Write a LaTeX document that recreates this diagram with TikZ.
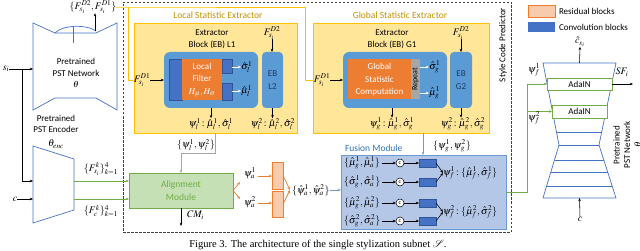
\documentclass[tikz,border=0pt]{standalone}
\usepackage{mathptmx}
\usepackage[no-math]{fontspec}
\setmainfont{Carlito}
\newfontfamily\capfont{Liberation Serif}
\usetikzlibrary{arrows.meta,fit,calc}
\definecolor{goldl}{HTML}{FFC000}
\definecolor{goldt}{HTML}{BF9000}
\definecolor{yfill}{HTML}{FFE699}
\definecolor{ebblue}{HTML}{5B9BD5}
\definecolor{dblue}{HTML}{4472C4}
\definecolor{dblueb}{HTML}{2F5597}
\definecolor{navy}{HTML}{1F3864}
\definecolor{orng}{HTML}{ED7D31}
\definecolor{rgray}{HTML}{A6A6A6}
\definecolor{grn}{HTML}{70AD47}
\definecolor{grnfill}{HTML}{C5E0B4}
\definecolor{fusfill}{HTML}{B4C7E7}
\definecolor{fusb}{HTML}{6C9BD2}
\definecolor{fust}{HTML}{2E75B6}
\definecolor{resfill}{HTML}{F8CBAD}
\definecolor{netb}{HTML}{4472C4}
\definecolor{dashc}{HTML}{404040}
\begin{document}
\begin{tikzpicture}[x=1pt,y=-1pt,
  font=\fontsize{9}{10.5}\selectfont,
  every node/.style={inner sep=0pt, outer sep=0pt},
  tip/.style={-{Stealth[length=3.2pt,width=2.6pt]}},
  arr/.style={tip, line width=0.55pt},
  warr/.style={tip, line width=0.6pt, white},
  oarr/.style={tip, line width=0.7pt, orng},
  garr/.style={tip, line width=0.9pt, grn},
  barr/.style={tip, line width=0.7pt, fusb},
  gline/.style={draw=goldl, line width=0.9pt},
  netl/.style={draw=netb, line width=0.7pt},
  m/.style={font=\fontsize{10}{12}\selectfont},
  ybox/.style={draw=goldl, fill=yfill, line width=0.8pt},
  ebbox/.style={fill=ebblue, rounded corners=6pt},
  dbox/.style={fill=dblue, draw=dblueb, line width=0.4pt},
  obox/.style={fill=orng, text=white, align=center, font=\fontsize{9}{12.5}\selectfont},
  rbox/.style={fill=resfill, draw=orng, line width=0.7pt},
  cnode/.style={circle, draw=black, fill=white, line width=0.5pt, minimum size=8pt, font=\fontsize{6}{6}\selectfont},
  adabox/.style={draw=grn, fill=white, line width=0.8pt},
]
\useasboundingbox (0,0) rectangle (640,251);

% ---------------- top-left pretrained PST network
\draw[netl] (33,23) -- (55,33) -- (96,33) -- (117,23) -- (117,110) -- (96,98) -- (55,98) -- (33,110) -- cycle;
\draw[netl] (55,33) .. controls (62,25) and (86,24) .. (96,31);
\draw[netl] (73,27) -- (73,43);
\node[align=center, font=\fontsize{9}{11.5}\selectfont] (pstnet) at (76,73) {Pretrained\\PST Network\\$\theta$};
\coordinate (nettop) at (95,31);
\coordinate (netL) at (33,69);
\node[m] (fdd) at (93,7) {$\{F_{s_i}^{D2},F_{s_i}^{D1}\}$};
\draw[arr] (nettop) -- (nettop |- fdd.south);

% ---------------- encoder
\draw[netl] (33,146) -- (74,159) -- (74,210) -- (33,223) -- cycle;
\coordinate (encA) at (33,181);
\coordinate (encC) at (33,199);
\coordinate (encOA) at (74,181);
\coordinate (encOC) at (74,199);
\node[align=center, font=\fontsize{9}{11.5}\selectfont] (enclbl) at (56,124) {Pretrained\\PST Encoder};
\node[m] (thenc) at (56,144) {$\theta_{enc}$};

\node[m] (si) at (6,69) {$s_i$};
\draw[arr] (si.east) -- (netL);
\coordinate (sbr) at (22,69);
\draw[arr] (sbr) |- (encA);
\node[m] (cin) at (15,199) {$c$};
\draw[arr] (cin.east) -- (encC);

% ---------------- style code predictor frame
\node[draw=dashc, dashed, dash pattern=on 2.5pt off 1.5pt, line width=0.8pt, fit={(123,2) (511,232)}] (scp) {};
\node[rotate=90] (scplbl) at (503,45) {Style Code Predictor};

% ---------------- local statistic extractor
\node[ybox, fit={(134,23) (297,133)}] (lse) {};
\node[text=goldt, font=\fontsize{9.5}{11}\selectfont] (lselbl) at (218,15) {Local Statistic Extractor};
\node[align=center, font=\fontsize{9}{12}\selectfont] (ebl1lbl) at (212,39) {Extractor\\Block (EB) L1};
\node[ebbox, fit={(164,52) (258,108)}] (ebl1) {};
\node[dbox, fit={(169,59) (182,100)}] (lfa) {};
\node[obox, fit={(182,59) (222,100)}] (lf) {};
\node[obox] (lftxt) at (202,80) {Local\\Filter\\$H_\mu,H_\sigma$};
\node[dbox, fit={(222,59) (232,73)}] (lfs) {};
\node[dbox, fit={(222,83) (232,100)}] (lfm) {};
\node[m, anchor=west] (sl1) at (241,67) {$\hat\sigma_l^1$};
\node[m, anchor=west] (ml1) at (241,91) {$\hat\mu_l^1$};
\draw[warr] (lfs.east |- sl1.west) -- (sl1.west);
\draw[warr] (lfm.east |- ml1.west) -- (ml1.west);
\node[ebbox, rounded corners=4pt, fit={(262,52) (283,108)}] (ebl2) {};
\node[align=center, text=navy, font=\fontsize{9}{12.5}\selectfont] (ebl2t) at (272.5,80) {EB\\L2};
\node[m] (fd2l) at (272,33) {$F_{s_i}^{D2}$};
\draw[arr] (fd2l.south) -- (ebl2.north -| fd2l.south);
\node[m] (fd1l) at (142,80) {$F_{s_i}^{D1}$};
\draw[arr] (fd1l.east) -- (ebl1.west |- fd1l.east);
\node[m] (psil1) at (211,124) {$\psi_l^1\!:\hat\mu_l^1,\hat\sigma_l^1$};
\node[m] (psil2) at (273,124) {$\psi_l^2\!:\hat\mu_l^2,\hat\sigma_l^2$};
\draw[arr] (ebl1.south -| psil1.north) ++(0,0) -- (psil1.north);
\draw[arr] (ebl2.south) -- (ebl2.south |- psil2.north);

% ---------------- global statistic extractor
\node[ybox, fit={(313,23) (489,133)}] (gse) {};
\node[text=goldt, font=\fontsize{9.5}{11}\selectfont] (gselbl) at (400,15) {Global Statistic Extractor};
\node[align=center, font=\fontsize{9}{12}\selectfont] (ebg1lbl) at (392,39) {Extractor\\Block (EB) G1};
\node[ebbox, fit={(343,52) (447,108)}] (ebg1) {};
\node[obox, fit={(348,59) (411,99)}] (gsc) {};
\node[obox] (gsctxt) at (379.5,80) {Global\\Statistic\\Computation};
\node[fill=rgray, fit={(411,59) (420,99)}] (rep) {};
\node[rotate=90, font=\fontsize{8}{8}\selectfont] (reptxt) at (rep.center) {Repeat};
\node[m, anchor=west] (sg1) at (429,67) {$\hat\sigma_g^1$};
\node[m, anchor=west] (mg1) at (429,93) {$\hat\mu_g^1$};
\draw[warr] (rep.east |- sg1.west) -- (sg1.west);
\draw[warr] (rep.east |- mg1.west) -- (mg1.west);
\node[ebbox, rounded corners=4pt, fit={(450,52) (472,108)}] (ebg2) {};
\node[align=center, text=navy, font=\fontsize{9}{12.5}\selectfont] (ebg2t) at (461,80) {EB\\G2};
\node[m] (fd2g) at (461,33) {$F_{s_i}^{D2}$};
\draw[arr] (fd2g.south) -- (ebg2.north -| fd2g.south);
\node[m] (fd1g) at (322,80) {$F_{s_i}^{D1}$};
\draw[arr] (fd1g.east) -- (ebg1.west |- fd1g.east);
\node[m] (psig1) at (392,124) {$\psi_g^1\!:\hat\mu_g^1,\hat\sigma_g^1$};
\node[m] (psig2) at (463,124) {$\psi_g^2\!:\hat\mu_g^2,\hat\sigma_g^2$};
\draw[arr] (ebg1.south -| psig1.north) -- (psig1.north);
\draw[arr] (ebg2.south) -- (ebg2.south |- psig2.north);

% ---------------- gold routing of decoder features
\coordinate (gA) at (128,7);
\coordinate (gB) at (305,7);
\draw[gline] (fdd.east) -- (gA) -- (gB);
\draw[gline] (gA) |- (fd1l.west);
\draw[gline] (gB) |- (fd1g.west);

% ---------------- alignment module
\node[fill=grnfill, draw=grn, line width=0.8pt, fit={(129,173) (233,208)}] (align) {};
\node[align=center, text=grn, font=\fontsize{9.5}{13}\selectfont] (aligntxt) at (align.center) {Alignment\\Module};
\draw[garr] (encOA) -- (align.west |- encOA);
\draw[garr] (encOC) -- (align.west |- encOC);
\node[m] (fsk) at (101,169) {$\{F_{s_i}^k\}_{k=1}^4$};
\node[m] (fck) at (101,211) {$\{F_c^k\}_{k=1}^4$};

\node[m] (psil12) at (196,145) {$\{\psi_l^1,\psi_l^2\}$};
\coordinate (gy1) at (215,133);
\coordinate (gy2) at (215,153);
\draw[rgray, line width=0.9pt, tip] (gy1) -- (gy2) -| (align.north);

\node[m, anchor=west] (cm) at (187,215) {$CM_i$};
\draw[arr] (align.south) -- ++(0,18);

% alignment outputs
\coordinate (fa1) at (240,182);
\coordinate (fa2) at (240,199);
\draw[oarr] (align.east) -- (fa1);
\draw[oarr] (align.east) -- (fa2);
\node[m] (pa1) at (250,173) {$\psi_a^1$};
\node[m] (pa2) at (250,202) {$\psi_a^2$};
\node[rbox, fit={(272,162) (283,189)}] (res1) {};
\node[rbox, fit={(272,191) (283,217)}] (res2) {};
\draw[oarr] (258,176) -- (res1.west |- 0,176);
\draw[oarr] (258,203) -- (res2.west |- 0,203);
\coordinate (rm) at (290,190);
\draw[oarr] (res1.east) -- (rm);
\draw[oarr] (res2.east) -- (rm);
\node[m, anchor=west] (pah) at (292,190) {$\{\hat\psi_a^1,\hat\psi_a^2\}$};

% ---------------- fusion module
\node[fill=fusfill, draw=fusb, line width=0.8pt, fit={(341,155) (506,229)}] (fus) {};
\node[anchor=west, text=fust, font=\fontsize{9.5}{11}\selectfont] (fuslbl) at (345,148) {Fusion Module};
\draw[barr] (pah.east) -- (fus.west |- pah.east);
\node[m] (psig12) at (452,146) {$\{\psi_g^1,\psi_g^2\}$};
\draw[barr] (423,133) -- (423,155);

\node[m] (r1) at (362,163) {$\{\hat\mu_g^1,\hat\mu_a^1\}$};
\node[m] (r2) at (362,182) {$\{\hat\sigma_g^1,\hat\sigma_a^1\}$};
\node[m] (r3) at (362,203) {$\{\hat\mu_g^2,\hat\mu_a^2\}$};
\node[m] (r4) at (362,221) {$\{\hat\sigma_g^2,\hat\sigma_a^2\}$};
\node[cnode] (c1) at (400,163) {c};
\node[cnode] (c2) at (400,182) {c};
\node[cnode] (c3) at (400,203) {c};
\node[cnode] (c4) at (400,221) {c};
\node[dbox, fit={(419,159) (436,167)}] (b1) {};
\node[dbox, fit={(419,178) (436,186)}] (b2) {};
\node[dbox, fit={(419,199) (436,207)}] (b3) {};
\node[dbox, fit={(419,217) (436,225)}] (b4) {};
\foreach \k in {1,2,3,4}{
  \draw[arr] (r\k.east) ++(2,0) -- (c\k.west);
  \draw[arr] (c\k.east) -- (b\k.west);
}
\node[m, anchor=west] (pf1) at (443,173) {$\psi_f^1\!:\{\hat\mu_f^1,\hat\sigma_f^1\}$};
\node[m, anchor=west] (pf2) at (443,212) {$\psi_f^2\!:\{\hat\mu_f^2,\hat\sigma_f^2\}$};
\draw[arr] (b1.east) -- (pf1.west);
\draw[arr] (b2.east) -- (pf1.west);
\draw[arr] (b3.east) -- (pf2.west);
\draw[arr] (b4.east) -- (pf2.west);

% ---------------- legend
\node[rbox, fit={(528,5) (555,17)}] (legr) {};
\node[anchor=west, font=\fontsize{9}{10}\selectfont] (legrt) at (559,11) {Residual blocks};
\node[fill=dblue, fit={(528,22) (555,32)}] (legc) {};
\node[anchor=west, font=\fontsize{9}{10}\selectfont] (legct) at (559,27) {Convolution blocks};

% ---------------- right pretrained PST network
\draw[netl] (543,63) -- (616,63) -- (599,145) -- (616,198) -- (543,198) -- (559,145) -- cycle;
\draw[netl] (556.5,132) -- (601.7,132);
\draw[netl] (559,145) -- (599,145);
\draw[netl] (554.5,160) -- (603.8,160);
\draw[netl] (550.8,172) -- (607.7,172);
\draw[netl] (546.6,186) -- (612.2,186);
\node[adabox, fit={(547,78) (612,90)}] (ada1) {};
\node (ada1t) at (ada1.center) {AdaIN};
\node[adabox, fit={(552,105) (607,118)}] (ada2) {};
\node (ada2t) at (ada2.center) {AdaIN};
\coordinate (rtop) at (579.5,63);
\coordinate (rbot) at (579.5,198);
\node[m] (chat) at (580,42) {$\hat c_{s_i}$};
\draw[arr] (rtop) -- (chat.south);
\node[m] (sfi) at (622,72) {$SF_i$};
\draw[arr] (ada1.east) -- (633,84);
\node[m] (cbot) at (580,219) {$c$};
\draw[arr] (cbot.north) -- (rbot);
\node[rotate=90, align=center, font=\fontsize{9}{10.5}\selectfont] (rnet) at (627,145) {Pretrained\\PST Network\\$\theta$};

% green feed to AdaIN
\coordinate (gf0) at (fus.east |- 0,192);
\coordinate (gf1) at (527,192);
\coordinate (gf2) at (527,84);
\draw[grn, line width=0.9pt] (gf0) -- (gf1) -- (gf2);
\draw[garr] (gf2) -- (ada1.west);
\draw[garr] (527,111.5) -- (ada2.west);
\node[m] (pf1r) at (534,70) {$\psi_f^1$};
\node[m] (pf2r) at (534,118) {$\psi_f^2$};

% ---------------- caption
\node[font=\capfont\fontsize{10.5}{12}\selectfont] (cap) at (318,245) {Figure 3. The architecture of the single stylization subnet $\mathcal{S}$.};
\end{tikzpicture}
\end{document}
